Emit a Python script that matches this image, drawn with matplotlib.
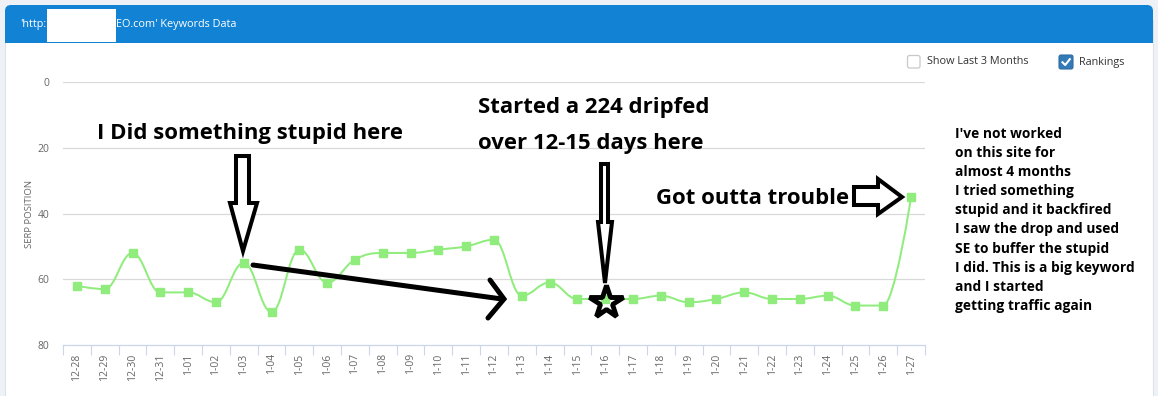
import numpy as np
import matplotlib
matplotlib.use("Agg")
import matplotlib.pyplot as plt
from matplotlib.path import Path
from matplotlib.patches import PathPatch, Polygon, FancyBboxPatch, Rectangle

# ---- data ----
dates = ["12-28", "12-29", "12-30", "12-31", "1-01", "1-02", "1-03", "1-04",
         "1-05", "1-06", "1-07", "1-08", "1-09", "1-10", "1-11", "1-12",
         "1-13", "1-14", "1-15", "1-16", "1-17", "1-18", "1-19", "1-20",
         "1-21", "1-22", "1-23", "1-24", "1-25", "1-26", "1-27"]
serp = [62, 63, 52, 64, 64, 67, 55, 70, 51, 61, 54, 52, 52, 51, 50, 48,
        65, 61, 66, 66, 66, 65, 67, 66, 64, 66, 66, 65, 68, 68, 35]
y_ticks = [0, 20, 40, 60, 80]

note_right = ["I've not worked", "on this site for", "almost 4 months",
              "I tried something", "stupid and it backfired",
              "I saw the drop and used", "SE to buffer the stupid",
              "I did. This is a big keyword", "and I started",
              "getting traffic again"]

W, H = 1158, 396
green = "#90ed7d"
grey_txt = "#666666"


def spline_path(xs, ys, smoothing=1.5):
    # highcharts style spline
    n = len(xs)
    denom = smoothing + 1
    left = [None] * n
    right = [None] * n
    for i in range(1, n - 1):
        lx, ly = xs[i - 1], ys[i - 1]
        nx, ny = xs[i + 1], ys[i + 1]
        px, py = xs[i], ys[i]
        lcx = (smoothing * px + lx) / denom
        lcy = (smoothing * py + ly) / denom
        rcx = (smoothing * px + nx) / denom
        rcy = (smoothing * py + ny) / denom
        corr = (rcy - lcy) * (rcx - px) / (rcx - lcx) + py - rcy
        lcy += corr
        rcy += corr
        if lcy > ly and lcy > py:
            lcy = max(ly, py); rcy = 2 * py - lcy
        elif lcy < ly and lcy < py:
            lcy = min(ly, py); rcy = 2 * py - lcy
        if rcy > ny and rcy > py:
            rcy = max(ny, py); lcy = 2 * py - rcy
        elif rcy < ny and rcy < py:
            rcy = min(ny, py); lcy = 2 * py - rcy
        left[i] = (lcx, lcy)
        right[i] = (rcx, rcy)
    verts = [(xs[0], ys[0])]
    codes = [Path.MOVETO]
    for i in range(1, n):
        c1 = right[i - 1] or (xs[i - 1], ys[i - 1])
        c2 = left[i] or (xs[i], ys[i])
        verts += [c1, c2, (xs[i], ys[i])]
        codes += [Path.CURVE4] * 3
    return Path(verts, codes)


fig = plt.figure(figsize=(W / 100, H / 100), dpi=100)
fig.patch.set_facecolor("#eef1f5")

# background: panel + header
bg = fig.add_axes([0, 0, 1, 1], zorder=0)
bg.set_xlim(0, W); bg.set_ylim(H, 0); bg.axis("off")
bg.add_patch(Rectangle((5, 20), 1148, 400, facecolor="white", edgecolor="#dde2e8", lw=0.8))
bg.add_patch(FancyBboxPatch((5, 5), 1148, 38, boxstyle="round,pad=0,rounding_size=6",
                            facecolor="#1282d4", edgecolor="none"))
bg.add_patch(Rectangle((5, 30), 1148, 13, facecolor="#1282d4", edgecolor="none"))
bg.add_patch(Rectangle((47, 9), 69, 33, facecolor="white", edgecolor="none"))
bg.text(20, 24.5, "'http:", color="white", fontsize=7.8, family="Open Sans", va="center")
bg.text(116, 24.5, "EO.com' Keywords Data", color="white", fontsize=7.8,
        family="Open Sans", va="center")

# checkboxes
bg.add_patch(FancyBboxPatch((907.5, 55.5), 12.5, 12.5, boxstyle="round,pad=0,rounding_size=2",
                            facecolor="white", edgecolor="#c8c8c8", lw=0.9))
bg.text(927, 62, "Show Last 3 Months", color="#333333", fontsize=7.8,
        family="Open Sans", va="center")
bg.add_patch(FancyBboxPatch((1059, 55), 14, 14, boxstyle="round,pad=0,rounding_size=2",
                            facecolor="#337ab7", edgecolor="#2e6da4", lw=0.8))
bg.plot([1062.5, 1065.2, 1069.8], [62.3, 65, 59.2], color="white", lw=1.5)
bg.text(1079, 62, "Rankings", color="#333333", fontsize=7.8,
        family="Open Sans", va="center")

# chart
ax = fig.add_axes([63 / W, 1 - 345 / H, 862 / W, 263 / H], zorder=1)
ax.patch.set_alpha(0)
x = np.arange(len(dates))
ax.add_patch(PathPatch(spline_path(list(x), serp), facecolor="none",
                       edgecolor=green, lw=1.45, zorder=3))
ax.plot(x, serp, ls="none", marker="s", markersize=5.5, color=green, zorder=4)

ax.set_xlim(-0.5, len(dates) - 0.5)
ax.set_ylim(80, 0)
ax.set_yticks(y_ticks)
ax.set_yticklabels([str(v) for v in y_ticks])
for v in y_ticks[:-1]:
    ax.axhline(v, color="#d9d9d9", lw=0.9, zorder=1)
ax.set_xticks(x)
ax.set_xticklabels(dates, rotation=90, fontsize=7.5, color=grey_txt, family="Open Sans")
ax.set_xticks(np.arange(-0.5, len(dates)), minor=True)
ax.tick_params(axis="x", which="major", length=0, pad=6)
ax.tick_params(axis="x", which="minor", length=7, color="#ccd6eb", width=0.8)
ax.tick_params(axis="y", length=0, pad=10, labelsize=7.5, labelcolor=grey_txt)
for lab in ax.get_yticklabels():
    lab.set_family("Open Sans")
for s in ["top", "right", "left"]:
    ax.spines[s].set_visible(False)
ax.spines["bottom"].set_color("#ccd6eb")
ax.spines["bottom"].set_linewidth(0.9)
ax.set_ylabel("SERP POSITION", fontsize=6.8, color=grey_txt, family="Open Sans", labelpad=2)

# hand-drawn annotations, in pixel space
ov = fig.add_axes([0, 0, 1, 1], zorder=2)
ov.set_xlim(0, W); ov.set_ylim(H, 0); ov.axis("off")
ov.patch.set_alpha(0)

big = dict(family="Open Sans", weight="bold", fontsize=15.9, color="black", va="center")
ov.text(97, 133, "I Did something stupid here", **big)
ov.text(478, 108, "Started a 224 dripfed", **big)
ov.text(478, 143, "over 12-15 days here", **big)
ov.text(656, 198, "Got outta trouble", **big)
for i, line in enumerate(note_right):
    ov.text(955, 134 + i * 19.1, line, family="Open Sans", weight="bold", fontsize=9.9,
            color="black", va="center")

arrow_kw = dict(closed=True, facecolor="white", edgecolor="black", lw=2.9, joinstyle="miter")
ov.add_patch(Polygon([(236, 156), (249, 156), (249, 203), (257, 203), (243, 251),
                      (230, 203), (236, 203)], **arrow_kw))
ov.add_patch(Polygon([(601, 164), (608, 164), (608, 222), (612, 222), (605, 283),
                      (598, 222), (601, 222)], **arrow_kw))
ov.add_patch(Polygon([(854, 187), (878, 187), (878, 179), (902, 197), (878, 214),
                      (878, 205), (854, 205)], **arrow_kw))
ov.plot([253, 502], [265, 299], color="black", lw=3.6, solid_capstyle="round")
ov.plot([490, 504, 488], [280, 299, 318], color="black", lw=3.6,
        solid_capstyle="round", solid_joinstyle="miter")
ov.plot([606], [302], marker="*", markersize=25, mfc="none", mec="black", mew=3.5)

fig.savefig("out.png", dpi=100)
